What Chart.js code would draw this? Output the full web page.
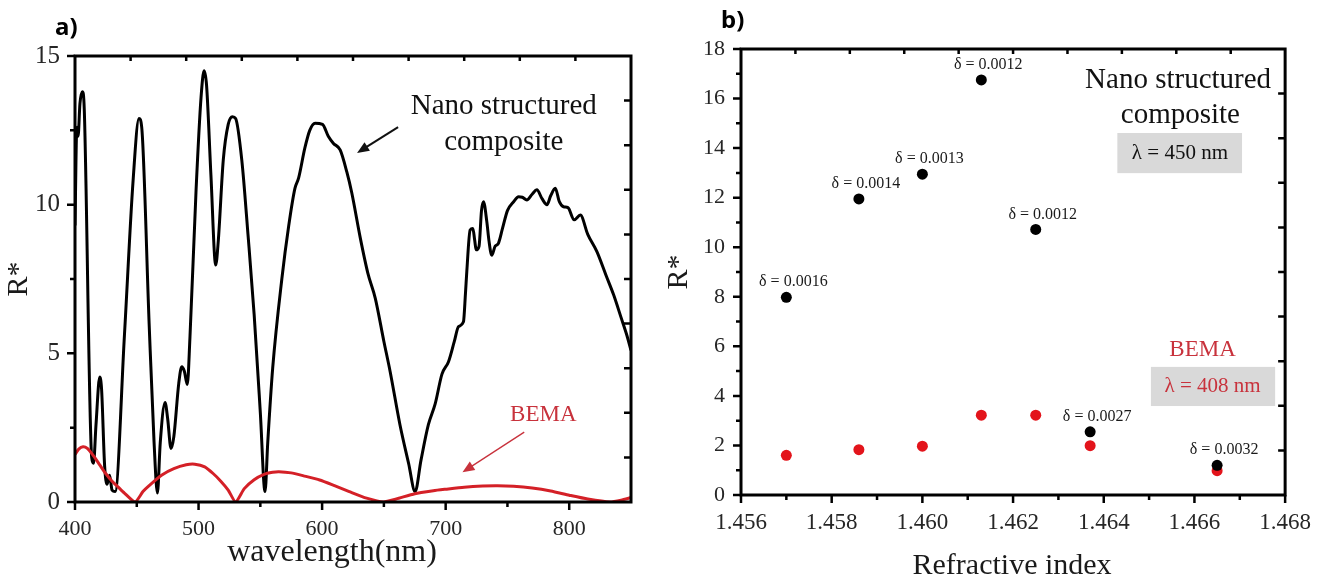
<!DOCTYPE html>
<html>
<head>
<meta charset="utf-8">
<script src="https://cdn.jsdelivr.net/npm/chart.js@4.4.0/dist/chart.umd.min.js"></script>
<style>
  html, body { margin: 0; padding: 0; background: #fff; }
  #wrap { position: relative; width: 1325px; height: 579px; }
  .panel { position: absolute; top: 0; height: 579px; }
  #panel-a { left: 0; width: 660px; }
  #panel-b { left: 660px; width: 665px; }
</style>
</head>
<body>
<div id="wrap">
  <div class="panel" id="panel-a"><canvas id="chart-a"></canvas></div>
  <div class="panel" id="panel-b"><canvas id="chart-b"></canvas></div>
</div>
<script>
// a) R* spectra
const wavelength = [400, 401.5, 402.5, 404, 406, 407.5, 413.5, 415, 417, 420, 421.5, 424, 426, 428, 430, 432.5,
  440, 447, 451.8, 454, 460, 464, 466.7, 469, 472.9, 475, 477.7, 480, 484, 486.4, 488.5, 490.9, 493, 498,
  502, 504.5, 506.5, 510, 513.9, 516, 520, 524, 527.4, 530, 535, 540, 545, 550, 553.8, 556, 560, 567.4, 573,
  578, 581, 586, 590, 594.3, 600.3, 605, 609.2, 614.6, 620, 624, 630.8, 637, 643, 650, 655, 663, 670, 675.3,
  680, 686, 691.5, 697, 702.3, 707, 710.4, 714.4, 716, 717.1, 719.8, 722, 723.5, 724.7, 727, 729, 730.6,
  733.3, 735, 737.3, 740, 742.7, 746, 750, 755, 759, 762, 765.7, 770, 773.8, 778, 782, 785, 788.7, 792,
  795.4, 799, 804, 809, 815, 822.4, 830, 836, 842, 846.7, 850];
const nanoR = [9.3, 12.6, 12.3, 13.4, 13.8, 13.2, 1.5, 1.3, 2.6, 4.2, 3.8, 1.2, 0.6, 0.9, 0.4, 0.35,
  5.6, 10.8, 12.9, 12.6, 6.0, 2.0, 0.3, 2.0, 3.35, 2.8, 1.8, 2.2, 4.0, 4.55, 4.4, 3.95, 5.5, 10.5,
  13.6, 14.5, 14.0, 11.0, 7.97, 8.8, 11.5, 12.7, 12.96, 12.9, 11.5, 9.0, 6.3, 3.0, 0.35, 2.0, 4.5, 7.5, 9.3,
  10.55, 10.9, 11.9, 12.5, 12.74, 12.7, 12.3, 12.06, 11.84, 11.1, 10.4, 8.9, 7.7, 6.86, 5.4, 4.4, 2.6, 1.3, 0.35,
  1.4, 2.6, 3.3, 4.3, 4.72, 5.4, 5.9, 6.06, 7.0, 7.75, 9.15, 9.2, 8.8, 8.48, 8.6, 9.8, 10.1,
  9.43, 8.8, 8.3, 8.6, 8.7, 9.2, 9.8, 10.1, 10.27, 10.25, 10.16, 10.35, 10.5, 10.2, 10.0, 10.3, 10.55, 10.1,
  9.93, 9.9, 9.49, 9.65, 9.0, 8.42, 7.6, 6.96, 6.2, 5.6, 5.1];
const bemaWl = [400, 403, 406.5, 410, 415, 420, 425, 430, 435, 440, 448.6, 455, 460, 470, 480, 490, 497, 505,
  512, 518, 524, 530, 537, 545, 553, 560, 565, 575, 585, 598, 610, 622, 636, 649.6, 660, 675, 690, 700, 715,
  730, 742, 755, 770, 785, 800, 815, 833, 842, 850];
const bemaR = [1.6, 1.78, 1.86, 1.8, 1.55, 1.25, 0.95, 0.7, 0.5, 0.3, 0.0, 0.35, 0.55, 0.9, 1.12, 1.25, 1.27, 1.18,
  0.95, 0.7, 0.4, 0.0, 0.45, 0.75, 0.93, 1.0, 1.02, 0.98, 0.88, 0.74, 0.55, 0.35, 0.13, 0.0, 0.1, 0.28, 0.38, 0.43, 0.5,
  0.54, 0.55, 0.53, 0.47, 0.37, 0.23, 0.1, 0.0, 0.06, 0.15];
const xTicksA = [400, 500, 600, 700, 800];
const yTicksA = [0, 5, 10, 15];

// b) R* vs refractive index
const refIndex = [1.4570, 1.4586, 1.4600, 1.4613, 1.4625, 1.4637, 1.4665];
const nanoRb = [7.98, 11.95, 12.95, 16.75, 10.72, 2.55, 1.2];
const bemaRb = [1.6, 1.83, 1.97, 3.22, 3.22, 1.99, 0.98];
const deltaLabels = ["δ = 0.0016", "δ = 0.0014", "δ = 0.0013", "δ = 0.0012", "δ = 0.0012", "δ = 0.0027", "δ = 0.0032"];
const xTicksB = [1.456, 1.458, 1.460, 1.462, 1.464, 1.466, 1.468];
const yTicksB = [0, 2, 4, 6, 8, 10, 12, 14, 16, 18];

const RED = "#d42027";
const TEXT_RED = "#c8323c";
const SERIF = "'Liberation Serif', 'Times New Roman', serif";

Chart.defaults.font.family = SERIF;
Chart.defaults.color = "#262626";

const toPts = (xs, ys) => xs.map((v, i) => ({ x: v, y: ys[i] }));

// frame, Origin-style ticks, annotations and δ labels
const framePlugin = {
  id: "frame",
  afterDraw(chart, args, o) {
    const { ctx, chartArea: a, scales: { x, y } } = chart;
    ctx.save();
    ctx.strokeStyle = "#000";
    ctx.lineWidth = 2.5;
    ctx.beginPath();
    const xv = x.ticks.map(t => t.value);
    const yv = y.ticks.map(t => t.value);
    xv.forEach((v, i) => {
      const px = x.getPixelForValue(v);
      ctx.moveTo(px, a.bottom); ctx.lineTo(px, a.bottom + 8);
      if (i < xv.length - 1) {
        const pm = x.getPixelForValue((v + xv[i + 1]) / 2);
        ctx.moveTo(pm, a.bottom); ctx.lineTo(pm, a.bottom + 5);
      }
    });
    yv.forEach((v, i) => {
      const py = y.getPixelForValue(v);
      ctx.moveTo(a.left, py); ctx.lineTo(a.left - 8, py);
      if (i < yv.length - 1) {
        const pm = y.getPixelForValue((v + yv[i + 1]) / 2);
        ctx.moveTo(a.left, pm); ctx.lineTo(a.left - 5, pm);
      }
    });
    for (let k = 1; k < 10; k++) {
      const px = x.getPixelForValue(x.min + (x.max - x.min) * k / 10);
      ctx.moveTo(px, a.top); ctx.lineTo(px, a.top + 5);
      const py = y.getPixelForValue(y.min + (y.max - y.min) * k / 10);
      ctx.moveTo(a.right, py); ctx.lineTo(a.right - 7, py);
    }
    ctx.stroke();
    ctx.lineWidth = 3;
    ctx.strokeRect(a.left, a.top, a.right - a.left, a.bottom - a.top);

    // x axis title (sits a bit off-centre in the original)
    if (o.xTitle) {
      ctx.fillStyle = "#1a1a1a";
      ctx.font = o.xTitle.size + "px " + SERIF;
      ctx.textAlign = "center";
      ctx.textBaseline = "middle";
      ctx.fillText(o.xTitle.text, (a.left + a.right) / 2 + o.xTitle.dx, a.bottom + o.xTitle.dy);
    }

    // annotations
    (o.notes || []).forEach(n => {
      if (n.type === "box") {
        const x1 = x.getPixelForValue(n.x1), x2 = x.getPixelForValue(n.x2);
        const y1 = y.getPixelForValue(n.y1), y2 = y.getPixelForValue(n.y2);
        ctx.fillStyle = "#d9d9d9";
        ctx.fillRect(x1, y1, x2 - x1, y2 - y1);
      } else if (n.type === "text") {
        ctx.fillStyle = n.color || "#111";
        ctx.font = n.size + "px " + SERIF;
        ctx.textAlign = "center";
        ctx.textBaseline = "middle";
        ctx.fillText(n.text, x.getPixelForValue(n.x), y.getPixelForValue(n.y));
      } else if (n.type === "arrow") {
        const x1 = x.getPixelForValue(n.x1), y1 = y.getPixelForValue(n.y1);
        const x2 = x.getPixelForValue(n.x2), y2 = y.getPixelForValue(n.y2);
        const ang = Math.atan2(y2 - y1, x2 - x1);
        ctx.strokeStyle = n.color || "#111";
        ctx.fillStyle = n.color || "#111";
        ctx.lineWidth = n.width || 2;
        ctx.beginPath();
        ctx.moveTo(x1, y1);
        ctx.lineTo(x2 - 8 * Math.cos(ang), y2 - 8 * Math.sin(ang));
        ctx.stroke();
        ctx.beginPath();
        ctx.moveTo(x2, y2);
        ctx.lineTo(x2 - 12 * Math.cos(ang) + 5 * Math.sin(ang), y2 - 12 * Math.sin(ang) - 5 * Math.cos(ang));
        ctx.lineTo(x2 - 12 * Math.cos(ang) - 5 * Math.sin(ang), y2 - 12 * Math.sin(ang) + 5 * Math.cos(ang));
        ctx.closePath();
        ctx.fill();
      }
    });

    // point labels
    chart.data.datasets.forEach((ds, di) => {
      if (!ds.pointLabels) return;
      const meta = chart.getDatasetMeta(di);
      ctx.fillStyle = "#1a1a1a";
      ctx.font = "16px " + SERIF;
      ctx.textAlign = "center";
      ctx.textBaseline = "middle";
      meta.data.forEach((pt, i) => ctx.fillText(ds.pointLabels[i], pt.x + 7, pt.y - 15));
    });

    // panel letter
    if (o.panel) {
      ctx.fillStyle = "#000";
      ctx.font = "bold 24px 'Noto Sans'";
      ctx.textAlign = "left";
      ctx.textBaseline = "middle";
      ctx.fillText(o.panel, a.left - 20, a.top - 28);
    }
    ctx.restore();
  }
};

function axisX(min, max, ticks, height, fmt, size) {
  return {
    type: "linear", min: min, max: max,
    afterBuildTicks: s => { s.ticks = ticks.map(v => ({ value: v })); },
    afterFit: s => { s.height = height; },
    grid: { display: false, drawTicks: false },
    border: { display: false },
    ticks: { padding: 14, font: { size: size }, maxRotation: 0, callback: fmt }
  };
}
function axisY(min, max, ticks, width, pad, size) {
  return {
    min: min, max: max,
    afterBuildTicks: s => { s.ticks = ticks.map(v => ({ value: v })); },
    afterFit: s => { s.width = width; },
    grid: { display: false, drawTicks: false },
    border: { display: false },
    ticks: { padding: pad, font: { size: size } },
    title: { display: true, text: "R*", color: "#1a1a1a", font: { size: 30, lineHeight: 1 }, padding: { top: 4, bottom: 0 } }
  };
}

new Chart(document.getElementById("chart-a"), {
  type: "line",
  data: {
    datasets: [
      { label: "BEMA", data: toPts(bemaWl, bemaR), borderColor: RED, borderWidth: 3, pointRadius: 0, tension: 0.2 },
      { label: "Nano structured composite", data: toPts(wavelength, nanoR), borderColor: "#000", borderWidth: 3,
        pointRadius: 0, cubicInterpolationMode: "monotone" }
    ]
  },
  options: {
    responsive: true, maintainAspectRatio: false, animation: false,
    layout: { padding: { left: 0, right: 29, top: 56, bottom: 0 } },
    plugins: {
      legend: { display: false }, tooltip: { enabled: false },
      frame: {
        panel: "a)",
        xTitle: { text: "wavelength(nm)", size: 32, dx: -21, dy: 51 },
        notes: [
          { type: "text", x: 747, y: 13.29, text: "Nano structured", size: 29 },
          { type: "text", x: 747, y: 12.08, text: "composite", size: 29 },
          { type: "arrow", x1: 661.5, y1: 12.61, x2: 628.3, y2: 11.74 },
          { type: "text", x: 779, y: 2.93, text: "BEMA", size: 23, color: TEXT_RED },
          { type: "arrow", x1: 763.6, y1: 2.35, x2: 713.6, y2: 1.0, color: TEXT_RED, width: 1.3 }
        ]
      }
    },
    scales: {
      x: axisX(400, 850, xTicksA, 77, v => v, 22),
      y: axisY(0, 15, yTicksA, 75, 15, 25)
    }
  },
  plugins: [framePlugin]
});

new Chart(document.getElementById("chart-b"), {
  type: "scatter",
  data: {
    datasets: [
      { label: "Nano structured composite", data: toPts(refIndex, nanoRb), pointLabels: deltaLabels,
        backgroundColor: "#000", borderWidth: 0, pointRadius: 5.5 },
      { label: "BEMA", data: toPts(refIndex, bemaRb),
        backgroundColor: "#e3141b", borderWidth: 0, pointRadius: 5.5 }
    ]
  },
  options: {
    responsive: true, maintainAspectRatio: false, animation: false,
    layout: { padding: { left: 0, right: 29, top: 49, bottom: 0 } },
    plugins: {
      legend: { display: false }, tooltip: { enabled: false },
      frame: {
        panel: "b)",
        xTitle: { text: "Refractive index", size: 30, dx: -1, dy: 71 },
        notes: [
          { type: "text", x: 1.46564, y: 16.75, text: "Nano structured", size: 29 },
          { type: "text", x: 1.46569, y: 15.34, text: "composite", size: 29 },
          { type: "box", x1: 1.4643, y1: 14.61, x2: 1.46705, y2: 12.99 },
          { type: "text", x: 1.46568, y: 13.8, text: "λ = 450 nm", size: 21 },
          { type: "text", x: 1.46618, y: 5.85, text: "BEMA", size: 23, color: TEXT_RED },
          { type: "box", x1: 1.46504, y1: 5.17, x2: 1.46778, y2: 3.59 },
          { type: "text", x: 1.4664, y: 4.36, text: "λ = 408 nm", size: 21, color: TEXT_RED }
        ]
      }
    },
    scales: {
      x: axisX(1.456, 1.468, xTicksB, 84, v => v.toFixed(3), 23),
      y: axisY(0, 18, yTicksB, 81, 16, 22)
    }
  },
  plugins: [framePlugin]
});
</script>
</body>
</html>
